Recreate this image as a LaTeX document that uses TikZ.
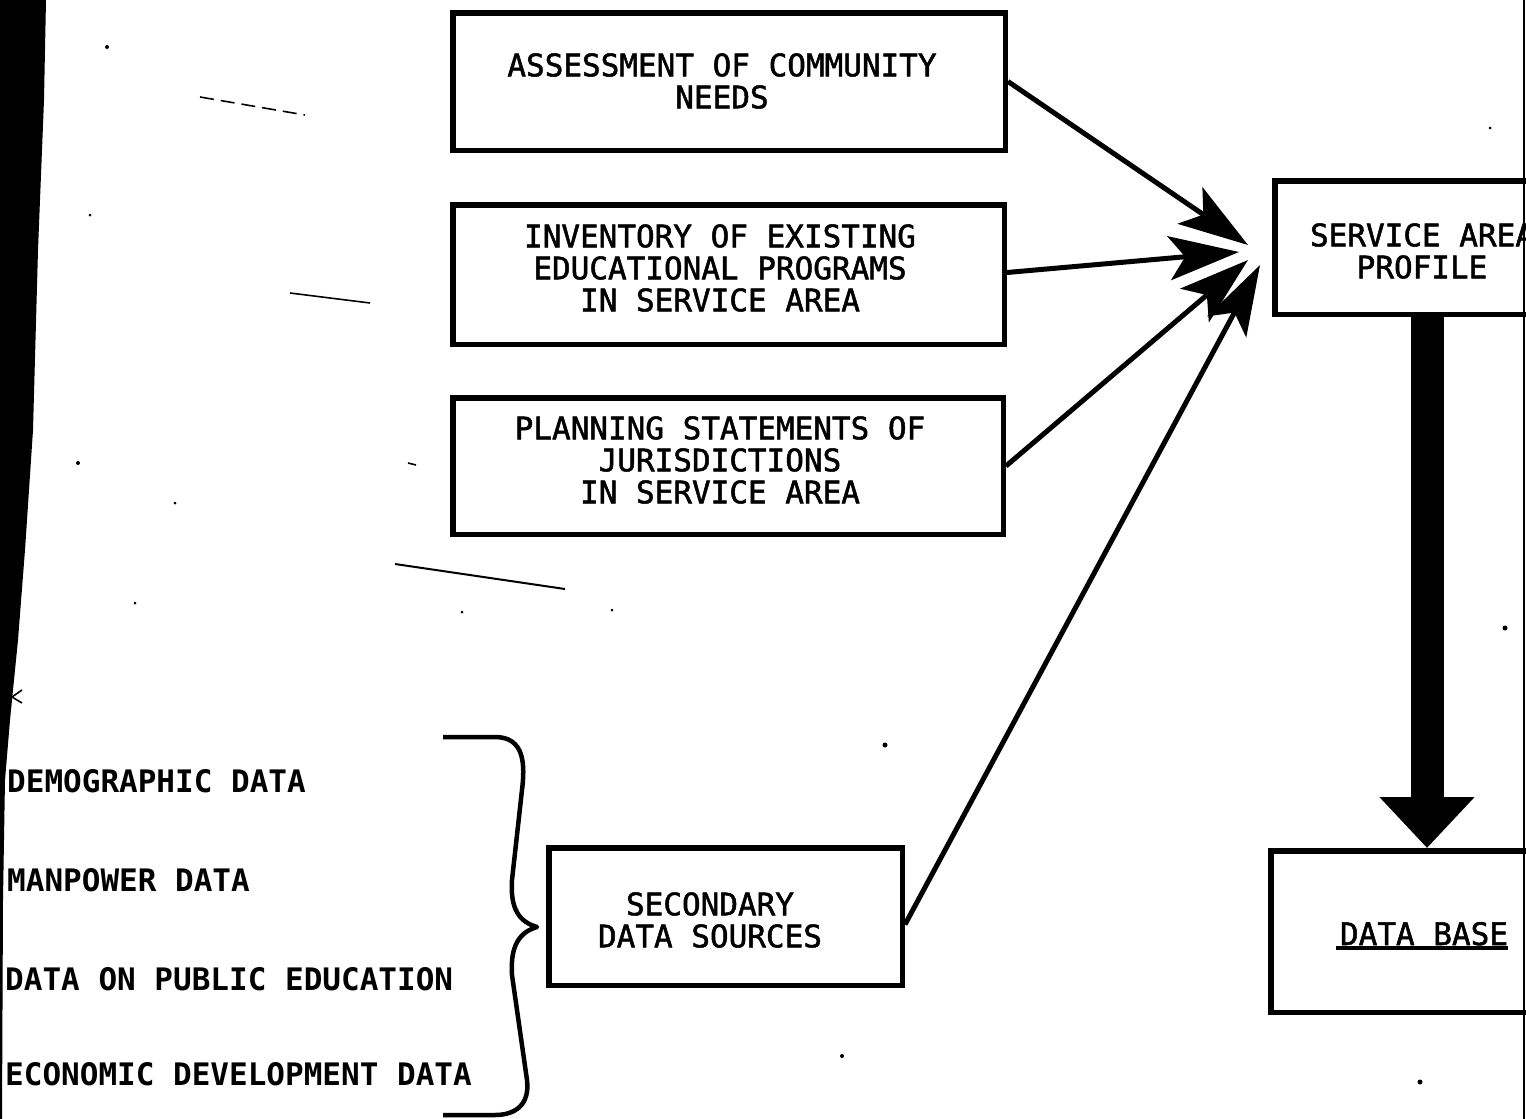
\documentclass[tikz,border=0pt]{standalone}
\usepackage{fontspec}
\setmonofont{DejaVu Sans Mono}
\newfontfamily\boxmono[RawFeature={embolden=1.6}]{DejaVu Sans Mono}
\usetikzlibrary{arrows.meta}
\newcommand\boxfont{\fontsize{31}{32}\selectfont\boxmono}
\newcommand\lblfont{\fontsize{31}{32}\selectfont\ttfamily\bfseries}
\begin{document}
\begin{tikzpicture}[x=1pt,y=-1pt,
  box/.style={draw, line width=5.5pt, inner sep=0pt},
  txt/.style={align=center, font=\boxfont, inner sep=0pt},
  lbl/.style={anchor=west, font=\lblfont, inner sep=0pt},
  feed/.style={line width=5pt, -{Stealth[length=70pt, width=44pt, inset=16pt]}},
  bigarrow/.style={line width=33pt, -{Triangle[length=51pt, width=92pt]}},
  speck/.style={line width=1.6pt},
]
\useasboundingbox (0,0) rectangle (1526,1119);
\clip (0,0) rectangle (1526,1119);

% scan border at left and right
\fill (0,0) -- (46,0) -- (44,100) -- (38,250) -- (33,430) -- (25,550) -- (18,640) -- (10,720) -- (5,780) -- (3,900) -- (2,1119) -- (0,1119) -- cycle;
\draw[line width=2pt] (1523.5,0) -- (1523.5,1119);

% boxes
\node[box, minimum width=552.5pt, minimum height=137.5pt] (b1) at (729,81.5) {};
\node[txt] (b1t) at (722,81) {ASSESSMENT OF COMMUNITY\\NEEDS};
\node[box, minimum width=551.5pt, minimum height=139.5pt] (b2) at (728.5,274.5) {};
\node[txt] (b2t) at (720,268) {INVENTORY OF EXISTING\\EDUCATIONAL PROGRAMS\\IN SERVICE AREA};
\node[box, minimum width=550.5pt, minimum height=136.5pt] (b3) at (728,466) {};
\node[txt] (b3t) at (720,460) {PLANNING STATEMENTS OF\\JURISDICTIONS\\IN SERVICE AREA};
\node[box, minimum width=353.5pt, minimum height=137.5pt] (b4) at (725.5,916.5) {};
\node[txt] (b4t) at (710,920) {SECONDARY\\DATA SOURCES};
\node[box, minimum width=298.5pt, minimum height=133.5pt] (svc) at (1424,247.5) {};
\node[txt] (svct) at (1422,251) {SERVICE AREA\\PROFILE};
\node[box, minimum width=312.5pt, minimum height=161.5pt] (db) at (1427,931.5) {};
\node[txt] (dbt) at (1424,936) {DATA BASE\llap{\rule[-5pt]{172pt}{4pt}}};

% arrow tips converging on the profile box
\coordinate (t1) at (1248,245);
\coordinate (t2) at (1239,252);
\coordinate (t3) at (1248,260);
\coordinate (t4) at (1260,265);
\draw[feed] (b1.east) -- (t1);
\draw[feed] ([yshift=2pt]b2.east) -- (t2);
\draw[feed] (b3.east) -- (t3);
\draw[feed] ([yshift=-8pt]b4.east) -- (t4);

% thick arrow to data base
\draw[bigarrow] (svc.south -| db.north) -- (db.north);

% left list and brace
\node[lbl] (l1) at (7,781) {DEMOGRAPHIC DATA};
\node[lbl] (l2) at (7,880) {MANPOWER DATA};
\node[lbl] (l3) at (5,979) {DATA ON PUBLIC EDUCATION};
\node[lbl] (l4) at (5,1074) {ECONOMIC DEVELOPMENT DATA};
\draw[line width=4.5pt, line join=round] (443,737) -- (495,737)
  .. controls (525,737) and (525,765) .. (522,790) -- (512,880)
  .. controls (510,910) and (520,922) .. (537,927)
  .. controls (520,932) and (510,945) .. (512,975) -- (527,1080)
  .. controls (530,1105) and (515,1115) .. (495,1115) -- (443,1115);

% stray scan marks
\draw[line width=2pt] (395,564) -- (565,589);
\draw[speck, dash pattern=on 14pt off 7pt] (200,97) -- (305,115);
\draw[speck] (290,293) -- (370,303);
\draw[speck] (408,463) -- (416,465);
\fill (107,47) circle (2pt);
\fill (90,215) circle (1.5pt);
\fill (78,463) circle (2pt);
\fill (135,603) circle (1.5pt);
\fill (462,612) circle (1.5pt);
\fill (612,610) circle (1.5pt);
\fill (175,503) circle (1.5pt);
\fill (885,745) circle (2.5pt);
\fill (842,1056) circle (2pt);
\fill (1505,628) circle (2.5pt);
\fill (1490,128) circle (1.5pt);
\fill (1420,1082) circle (2.5pt);
\draw[speck] (22,690) -- (12,697) -- (22,703);
\end{tikzpicture}
\end{document}
